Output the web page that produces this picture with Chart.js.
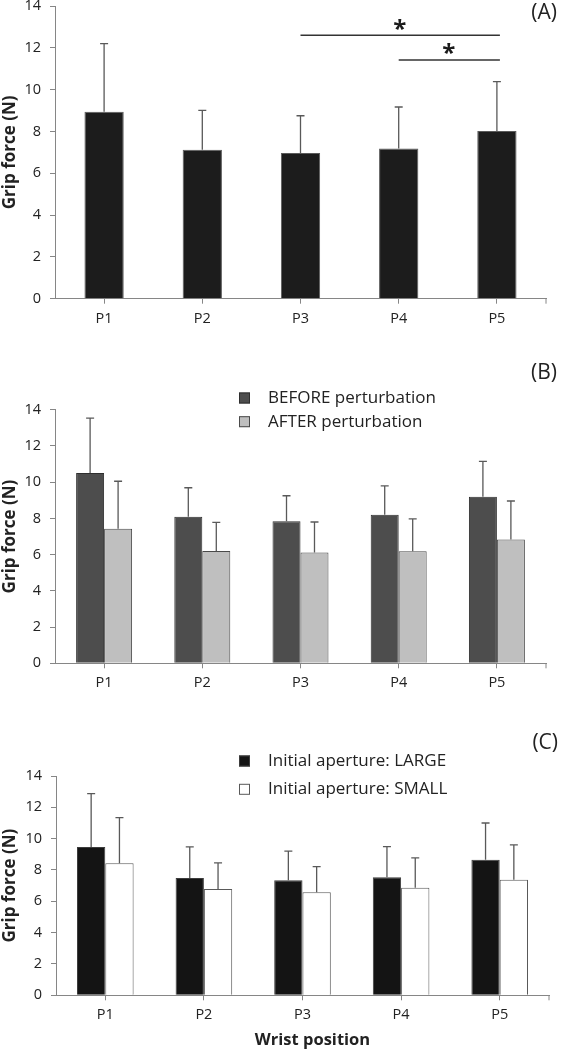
<!DOCTYPE html>
<html>
<head>
<meta charset="utf-8">
<script src="https://cdn.jsdelivr.net/npm/chart.js@4.4.1/dist/chart.umd.min.js"></script>
<style>
  html, body { margin: 0; padding: 0; background: #ffffff; }
  #page { position: relative; width: 561px; height: 1050px; overflow: hidden; }
  .panel { position: absolute; left: 0; width: 561px; }
  canvas { display: block; }
</style>
</head>
<body>
<div id="page">
  <div class="panel" style="top:0px;height:345px"><canvas id="cA" width="561" height="345"></canvas></div>
  <div class="panel" style="top:345px;height:345px"><canvas id="cB" width="561" height="345"></canvas></div>
  <div class="panel" style="top:690px;height:360px"><canvas id="cC" width="561" height="360"></canvas></div>
</div>
<script>
// ---------------- DATA ----------------
const categories = ['P1', 'P2', 'P3', 'P4', 'P5'];
const yTickMin = 0;
const yTickMax = 14;
const yTickStep = 2;

// Panel A: grip force per wrist position
const meanA    = [8.94, 7.13, 6.97, 7.19, 8.02];
const errHighA = [12.2, 9.01, 8.75, 9.17, 10.38];
// significance brackets (category index from / to, height in N)
const sigFromA  = [2, 3];
const sigToA    = [4, 4];
const sigLevelA = [12.6, 11.42];

// Panel B: before / after perturbation
const seriesNamesB = ['BEFORE perturbation', 'AFTER perturbation'];
const beforeB      = [10.51, 8.09, 7.84, 8.2, 9.2];
const beforeErrB   = [13.53, 9.69, 9.25, 9.8, 11.15];
const afterB       = [7.43, 6.2, 6.11, 6.18, 6.84];
const afterErrB    = [10.05, 7.78, 7.8, 7.97, 8.96];

// Panel C: initial aperture large / small
const seriesNamesC = ['Initial aperture: LARGE', 'Initial aperture: SMALL'];
const largeC       = [9.47, 7.49, 7.34, 7.53, 8.66];
const largeErrC    = [12.87, 9.47, 9.2, 9.49, 11.0];
const smallC       = [8.43, 6.79, 6.58, 6.87, 7.38];
const smallErrC    = [11.34, 8.45, 8.21, 8.77, 9.6];

const yTitle = 'Grip force (N)';
const xTitle = 'Wrist position';
const panelTags = ['(A)', '(B)', '(C)'];

// ---------------- STYLE ----------------
const FONT = "'Open Sans', 'DejaVu Sans', sans-serif";
const AXIS = '#868686';
const TXT = '#222222';
Chart.defaults.font.family = FONT;
Chart.defaults.color = TXT;

const overlay = {
  id: 'overlay',
  afterDatasetsDraw(chart, args, opts) {
    const { ctx, scales: { x, y }, chartArea } = chart;
    ctx.save();
    // error bars (upper only)
    chart.data.datasets.forEach((ds, di) => {
      const meta = chart.getDatasetMeta(di);
      (ds.errHigh || []).forEach((v, i) => {
        const bar = meta.data[i];
        const yTop = y.getPixelForValue(v);
        const yBar = y.getPixelForValue(ds.data[i]);
        ctx.strokeStyle = '#595959';
        ctx.lineWidth = 1.3;
        ctx.beginPath();
        ctx.moveTo(bar.x, yBar);
        ctx.lineTo(bar.x, yTop);
        ctx.moveTo(bar.x - 4, yTop);
        ctx.lineTo(bar.x + 4, yTop);
        ctx.stroke();
      });
    });
    // end tick at right end of x axis
    ctx.strokeStyle = AXIS;
    ctx.lineWidth = 1;
    ctx.beginPath();
    ctx.moveTo(chartArea.right, chartArea.bottom);
    ctx.lineTo(chartArea.right, chartArea.bottom + 5);
    ctx.stroke();
    // significance brackets
    if (opts.sig) {
      const s = opts.sig;
      s.from.forEach((f, k) => {
        const x1 = x.getPixelForValue(f);
        const x2 = x.getPixelForValue(s.to[k]);
        const yy = y.getPixelForValue(s.level[k]);
        ctx.strokeStyle = '#333333';
        ctx.lineWidth = 1.6;
        ctx.beginPath();
        ctx.moveTo(x1, yy);
        ctx.lineTo(x2 + 3, yy);
        ctx.stroke();
        ctx.fillStyle = '#1a1a1a';
        ctx.font = 'bold 24px ' + FONT;
        ctx.textAlign = 'center';
        ctx.textBaseline = 'alphabetic';
        const m = ctx.measureText('*');
        const cy = yy - 11;
        ctx.fillText('*', (x1 + x2) / 2 + 1, cy + m.actualBoundingBoxAscent - (m.actualBoundingBoxAscent + m.actualBoundingBoxDescent) / 2);
      });
    }
    // legend
    if (opts.legend) {
      const L = opts.legend;
      chart.data.datasets.forEach((ds, di) => {
        const cy = L.rows[di];
        ctx.fillStyle = ds.backgroundColor;
        ctx.fillRect(L.x, cy - L.box / 2, L.box, L.box);
        ctx.strokeStyle = ds.borderColor;
        ctx.lineWidth = 1;
        ctx.strokeRect(L.x + 0.5, cy - L.box / 2 + 0.5, L.box - 1, L.box - 1);
        ctx.fillStyle = TXT;
        ctx.font = L.size + 'px ' + FONT;
        ctx.textAlign = 'left';
        ctx.textBaseline = 'middle';
        ctx.fillText(ds.label, L.textX, cy);
      });
    }
    // x-axis title (slightly right of the axis centre, as in the reference)
    if (opts.xTitle) {
      ctx.fillStyle = TXT;
      ctx.font = 'bold 16.5px ' + FONT;
      ctx.textAlign = 'center';
      ctx.textBaseline = 'middle';
      ctx.fillText(opts.xTitle.text, (chartArea.left + chartArea.right) / 2 + opts.xTitle.dx, chart.height - opts.xTitle.fromBottom);
    }
    // panel tag
    if (opts.tag) {
      ctx.fillStyle = TXT;
      ctx.font = '21px ' + FONT;
      ctx.textAlign = 'right';
      ctx.textBaseline = 'middle';
      ctx.fillText(opts.tag.text, opts.tag.x, opts.tag.y);
    }
    ctx.restore();
  }
};

function makeChart(id, datasets, geom, extra) {
  return new Chart(document.getElementById(id), {
    type: 'bar',
    data: { labels: categories, datasets },
    options: {
      responsive: false,
      animation: false,
      devicePixelRatio: 1,
      layout: { padding: { top: geom.top, right: geom.right, left: 0, bottom: 0 } },
      datasets: { bar: { categoryPercentage: geom.catPct, barPercentage: 1 } },
      plugins: {
        legend: { display: false },
        tooltip: { enabled: false },
        overlay: extra
      },
      scales: {
        x: {
          grid: { offset: false, drawOnChartArea: false, drawTicks: true, tickLength: 5, color: AXIS },
          border: { color: AXIS, width: 1 },
          ticks: { font: { size: 14.5 }, color: TXT, padding: 6 },
          title: { display: false },
          afterFit(s) { s.height = geom.xH; s.paddingLeft = 0; s.paddingRight = 0; }
        },
        y: {
          min: yTickMin, max: yTickMax,
          ticks: { stepSize: yTickStep, font: { size: 14.5 }, color: TXT, padding: 9 },
          grid: { drawOnChartArea: false, drawTicks: true, tickLength: 5, color: AXIS },
          border: { color: AXIS, width: 1 },
          title: { display: true, text: yTitle, font: { size: 17, weight: 'bold' }, color: TXT, padding: { top: 0, bottom: 0 } },
          afterFit(s) { s.width = geom.yW; s.paddingTop = 0; s.paddingBottom = 0; }
        }
      }
    },
    plugins: [overlay]
  });
}

// Panel A
makeChart('cA', [
  { label: 'Grip force', data: meanA, errHigh: errHighA, backgroundColor: '#1c1c1c', borderColor: '#5a5a5a', borderWidth: 1 }
], { top: 6, right: 15, yW: 55, xH: 46.3, catPct: 0.4 },
{ tag: { text: panelTags[0], x: 557, y: 13.5 }, sig: { from: sigFromA, to: sigToA, level: sigLevelA } });

// Panel B
makeChart('cB', [
  { label: seriesNamesB[0], data: beforeB, errHigh: beforeErrB, backgroundColor: '#4d4d4d', borderColor: '#2e2e2e', borderWidth: 1 },
  { label: seriesNamesB[1], data: afterB, errHigh: afterErrB, backgroundColor: '#bfbfbf', borderColor: '#4a4a4a', borderWidth: 1 }
], { top: 64.7, right: 15, yW: 55, xH: 26.7, catPct: 0.57 },
{ tag: { text: panelTags[1], x: 557, y: 28 }, legend: { x: 239, rows: [53, 76.7], box: 11, textX: 268, size: 17 } });

// Panel C
makeChart('cC', [
  { label: seriesNamesC[0], data: largeC, errHigh: largeErrC, backgroundColor: '#141414', borderColor: '#3c3c3c', borderWidth: 1 },
  { label: seriesNamesC[1], data: smallC, errHigh: smallErrC, backgroundColor: '#ffffff', borderColor: '#595959', borderWidth: 1 }
], { top: 86, right: 12, yW: 56, xH: 54.7, catPct: 0.574 },
{ tag: { text: panelTags[2], x: 558, y: 53.3 }, legend: { x: 239, rows: [71, 99.3], box: 11, textX: 268, size: 17 }, xTitle: { text: xTitle, dx: 10, fromBottom: 9.5 } });
</script>
</body>
</html>
